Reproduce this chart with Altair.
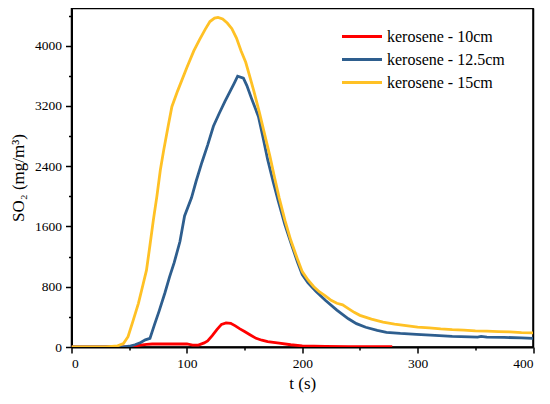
import altair as alt
import pandas as pd

# kerosene - 10cm
t_red = [0, 40, 50, 55, 60, 65, 70, 80, 90, 100, 105, 110, 115, 118, 122, 126, 130, 134, 138, 142, 146, 150, 155, 160, 165, 170, 180, 190, 200, 210, 220, 240, 260, 278]
v_red = [0, 0, 5, 15, 25, 35, 40, 40, 40, 40, 25, 25, 55, 80, 150, 230, 300, 320, 315, 280, 240, 205, 160, 115, 90, 70, 50, 30, 15, 10, 8, 6, 5, 3]

# kerosene - 12.5cm
t_blue = [0, 45, 50, 55, 60, 64, 68, 72, 76, 81, 85, 89, 94, 98, 104, 108, 113, 118, 123, 128, 133, 137, 141, 144, 149, 152, 156, 162, 166, 170, 175, 179, 185, 190, 196, 200, 205, 212, 220, 230, 240, 247, 255, 265, 273, 285, 299, 315, 330, 345, 352, 355, 360, 375, 390, 400]
v_blue = [0, 0, 10, 30, 60, 95, 115, 300, 480, 720, 930, 1120, 1400, 1740, 1980, 2200, 2450, 2680, 2930, 3100, 3260, 3380, 3500, 3595, 3570, 3470, 3300, 3060, 2780, 2490, 2180, 1950, 1620, 1390, 1120, 960, 850, 735, 620, 490, 375, 310, 262, 222, 195, 180, 168, 155, 140, 135, 132, 140, 130, 128, 120, 115]

# kerosene - 15cm
t_yel = [0, 30, 40, 45, 49, 53, 58, 62, 65, 68, 71, 74, 77, 80, 84, 87, 92, 100, 106, 111, 116, 120, 124, 127, 131, 135, 139, 143, 147, 151, 154, 158, 163, 167, 172, 176, 180, 185, 190, 196, 200, 205, 210, 215, 220, 225, 230, 235, 240, 245, 250, 260, 270, 280, 290, 300, 310, 320, 330, 340, 350, 360, 370, 380, 390, 400]
v_yel = [0, 0, 15, 45, 137, 330, 580, 830, 1020, 1350, 1690, 2000, 2350, 2620, 2950, 3190, 3400, 3710, 3930, 4080, 4220, 4320, 4365, 4375, 4355, 4300, 4225, 4100, 3930, 3780, 3620, 3400, 3105, 2850, 2530, 2250, 1980, 1680, 1420, 1160, 1000, 890, 800, 730, 680, 620, 580, 560, 510, 460, 420, 370, 330, 305, 285, 265, 255, 240, 230, 225, 215, 210, 205, 200, 192, 188]

names = ["kerosene - 10cm", "kerosene - 12.5cm", "kerosene - 15cm"]
colors = ["#FF0000", "#2E5E8E", "#FFC125"]

rows = []
for name, ts, vs in zip(names, [t_red, t_blue, t_yel], [v_red, v_blue, v_yel]):
    for t, v in zip(ts, vs):
        rows.append({"t": t, "v": v, "series": name})
df = pd.DataFrame(rows)

y_ticks = list(range(0, 4401, 400))
x_ticks = list(range(0, 401, 50))

FONT = "'Liberation Serif', 'DejaVu Serif', serif"

xscale = alt.Scale(domain=[0, 400], nice=False)
yscale = alt.Scale(domain=[0, 4500], nice=False)

lines = alt.Chart(df).mark_line(strokeWidth=2.8, clip=True).encode(
    x=alt.X("t:Q", scale=xscale,
            axis=alt.Axis(title="t (s)", values=x_ticks,
                          labelExpr="datum.value % 100 === 0 ? datum.label : ''",
                          tickSize={"condition": {"test": "datum.value % 100 === 0", "value": 6}, "value": 3},
                          labelPadding=3, titlePadding=6,
                          labelFont=FONT, titleFont=FONT)),
    y=alt.Y("v:Q", scale=yscale,
            axis=alt.Axis(title="SO₂ (mg/m³)", values=y_ticks, format="d",
                          labelExpr="datum.value % 800 === 0 ? datum.label : ''",
                          tickSize={"condition": {"test": "datum.value % 800 === 0", "value": 6}, "value": 3},
                          labelPadding=4, titleX=-44.5,
                          labelFont=FONT, titleFont=FONT)),
    color=alt.Color("series:N", scale=alt.Scale(domain=names, range=colors),
                    legend=alt.Legend(title=None, orient="none", legendX=281, legendY=19,
                                      symbolType="M-2.5,0H2.5", symbolSize=256,
                                      symbolStrokeWidth=3, labelOffset=15.5,
                                      rowPadding=5, padding=0, labelFont=FONT)),
)

frame = alt.Chart(df).mark_line(opacity=0).encode(
    x=alt.X("t:Q", scale=xscale,
            axis=alt.Axis(orient="top", title=None, labels=False, ticks=False, domainWidth=1.5)),
    y=alt.Y("v:Q", scale=yscale,
            axis=alt.Axis(orient="right", title=None, labels=False, ticks=False, domainWidth=1.5)),
    detail="series:N",
)

chart = alt.layer(lines, frame).resolve_axis(x="independent", y="independent").properties(
    width=461.5, height=339,
    autosize=alt.AutoSizeParams(type="none"),
    padding={"left": 63.5, "top": 0, "right": 9, "bottom": 50},
).configure(
    font=FONT
).configure_view(
    stroke="black", strokeWidth=1.5
).configure_axis(
    grid=False, domainColor="black", domainWidth=2, tickColor="black", tickWidth=1.5,
    labelFont=FONT, labelFontSize=13.5, labelColor="black",
    titleFont=FONT, titleFontSize=17, titleFontWeight="normal", titleColor="black",
).configure_legend(
    labelFont=FONT, labelFontSize=16, labelColor="black",
)

chart.save("out.html", embed_options={"renderer": "svg", "actions": False})
